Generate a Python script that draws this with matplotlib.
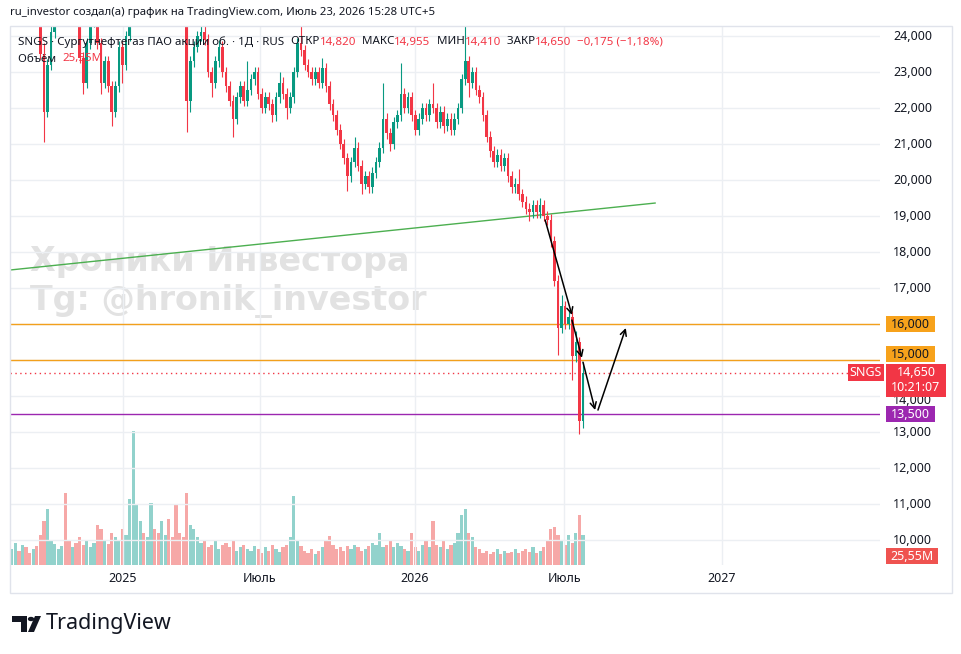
import numpy as np
import matplotlib
matplotlib.use("Agg")
import matplotlib.pyplot as plt
from matplotlib.patches import Rectangle, Polygon, Circle

plt.rcParams["font.family"] = ["Noto Sans", "DejaVu Sans"]

W, H = 961, 654

# ---- data (one candle ~ 3 trading days) ----
first_open = 24600
closes = [
    24800, 25100, 24900, 25300, 25000, 24700, 24900, 24600, 23500, 21900,
    23200, 24100, 24800, 25100, 25300, 25000, 24900, 25200, 24700, 23400,
    22700, 23800, 24400, 24900, 23800, 22700, 23300, 22600, 21900, 22600,
    23700, 23200, 24000, 24500, 24900, 25300, 25600, 25400, 25800, 26000,
    25700, 25500, 25900, 26100, 25800, 25400, 25100, 24900, 24700, 22200,
    23300, 23700, 24000, 24100, 23900, 23000, 22700, 23300, 23700, 23000,
    22600, 22200, 21700, 22300, 22600, 22200, 22500, 22800, 23000, 22400,
    22000, 22300, 22100, 21800, 22300, 22700, 22400, 22000, 22300, 23000,
    23800, 23600, 23200, 23000, 22800, 23000, 22700, 23100, 22600, 22100,
    21800, 21400, 21000, 20600, 20100, 20500, 20900, 20400, 19900, 20100,
    19800, 20200, 20500, 20900, 21700, 21300, 21000, 21600, 21800, 22400,
    22000, 22300, 21800, 21400, 21700, 22000, 21800, 22100, 22000, 21600,
    21900, 21500, 21700, 21400, 21700, 22000, 22800, 23300, 22700, 23000,
    22500, 22300, 21800, 21200, 20800, 20500, 20700, 20400, 20600, 20100,
    19800, 19900, 19600, 19400, 19200, 19100, 19300, 19100, 19300, 19000,
    18900, 18300, 17200, 15900, 16500, 16000, 16200, 15100, 15500, 13300,
    14650,
]
upper_wick = [
    150, 150, 150, 150, 150, 150, 150, 150, 150, 300,
    150, 500, 150, 150, 150, 150, 150, 150, 150, 150,
    150, 150, 400, 150, 150, 150, 150, 150, 150, 150,
    150, 150, 150, 400, 150, 150, 150, 150, 150, 150,
    150, 150, 150, 150, 150, 150, 150, 150, 150, 150,
    150, 150, 150, 400, 500, 150, 150, 150, 200, 150,
    150, 150, 150, 150, 150, 150, 800, 150, 150, 150,
    150, 150, 150, 150, 150, 300, 150, 150, 150, 150,
    150, 500, 150, 150, 150, 150, 150, 300, 150, 150,
    150, 150, 150, 150, 150, 150, 300, 150, 150, 150,
    150, 150, 150, 150, 1000, 150, 150, 150, 150, 850,
    150, 150, 150, 150, 150, 150, 150, 150, 600, 150,
    150, 150, 150, 150, 150, 150, 150, 1100, 150, 150,
    150, 150, 150, 150, 150, 150, 150, 150, 150, 150,
    150, 150, 400, 150, 150, 150, 150, 150, 200, 150,
    150, 150, 150, 150, 300, 150, 200, 150, 300, 150,
    305,
]
lower_wick = [
    150, 150, 150, 150, 150, 150, 150, 150, 150, 850,
    150, 150, 150, 150, 150, 150, 150, 150, 150, 150,
    300, 150, 150, 150, 150, 300, 150, 150, 400, 150,
    150, 500, 150, 150, 150, 150, 150, 150, 150, 150,
    150, 150, 150, 150, 150, 150, 150, 150, 150, 870,
    300, 150, 150, 150, 150, 150, 400, 150, 150, 150,
    150, 150, 500, 150, 150, 150, 150, 150, 150, 150,
    150, 150, 150, 200, 150, 150, 150, 300, 150, 150,
    150, 150, 150, 150, 150, 150, 150, 150, 150, 150,
    150, 150, 150, 150, 400, 150, 150, 150, 300, 150,
    150, 150, 150, 150, 150, 150, 200, 150, 150, 150,
    150, 150, 150, 150, 150, 150, 150, 150, 150, 150,
    150, 200, 150, 150, 150, 150, 150, 150, 400, 150,
    150, 150, 150, 150, 150, 150, 150, 150, 150, 150,
    150, 150, 150, 150, 150, 250, 150, 150, 150, 150,
    150, 150, 150, 750, 150, 150, 150, 650, 150, 350,
    200,
]
volumes = [
    20, 28, 18, 25, 22, 15, 20, 24, 38, 55,
    70, 30, 26, 20, 24, 90, 30, 22, 28, 35,
    25, 30, 22, 28, 50, 45, 30, 26, 40, 35,
    30, 45, 38, 82, 168, 75, 55, 40, 35, 78,
    45, 40, 55, 38, 58, 35, 75, 40, 35, 90,
    50, 45, 35, 28, 30, 22, 25, 30, 20, 25,
    28, 22, 30, 18, 22, 25, 20, 18, 24, 20,
    15, 22, 18, 25, 20, 16, 22, 25, 35, 86,
    30, 24, 18, 15, 20, 14, 18, 22, 30, 36,
    25, 20, 22, 18, 24, 20, 25, 22, 18, 20,
    24, 28, 25, 40, 22, 25, 30, 22, 28, 24,
    20, 18, 40, 22, 18, 25, 30, 22, 55, 25,
    22, 30, 20, 25, 28, 40, 62, 70, 40, 35,
    22, 20, 15, 18, 14, 16, 20, 14, 18, 15,
    16, 20, 15, 18, 20, 16, 22, 15, 18, 22,
    30, 45, 48, 38, 30, 25, 38, 28, 40, 62,
    38,
]

price_ticks = [10000, 11000, 12000, 13000, 14000, 17000, 18000, 19000,
               20000, 21000, 22000, 23000, 24000]
time_tick_pos = [31.6, 70.0, 113.4, 155.2, 199.4]
time_tick_labels = ["2025", "Июль", "2026", "Июль", "2027"]

trend_x = [0, 180.7]
trend_y = [17500, 19360]
arrow_starts = [(149.9, 18890), (157.4, 16110), (160.5, 14940), (164.7, 13610)]
arrow_ends = [(157.4, 16250), (160.2, 15060), (163.9, 13610), (172.5, 15890)]

last_close = 14650
level_orange = [16000, 15000]
level_purple = 13500

UP, DOWN = "#089981", "#f23645"
TXT = "#131722"

# ---- figure ----
fig = plt.figure(figsize=(W / 100, H / 100), dpi=100)
fig.patch.set_facecolor("white")

def fx(x):
    return x / W

def fy(y):
    return 1 - y / H

plot_l, plot_r, plot_t, plot_b = 10, 880, 27, 565
ax_vol = fig.add_axes([fx(plot_l), fy(plot_b), (plot_r - plot_l) / W, (plot_b - plot_t) / H])
ax = ax_vol.twinx()

opens = [first_open] + closes[:-1]
idx = np.arange(len(closes))
o = np.array(opens)
c = np.array(closes)
up = c >= o
hi = np.maximum(o, c) + np.array(upper_wick)
lo = np.minimum(o, c) - np.array(lower_wick)
xs = idx + 0.5
cols = np.where(up, UP, DOWN)

# volume
vcols = np.where(up, "#26a69a", "#ef5350")
ax_vol.bar(xs, volumes, width=0.9, color=vcols, alpha=0.5, linewidth=0)
ax_vol.set_ylim(0, 672)
ax_vol.set_xlim(0, (plot_r - plot_l) / 3.57)

# watermark behind everything
for yy, txt in [(0.565, "Хроники Инвестора"), (0.49, "Tg: @hronik_investor")]:
    ax_vol.text(0.023, yy, txt, transform=ax_vol.transAxes,
                fontsize=24, fontweight="bold", color="#e2e2e2", ha="left", va="center",
                family="DejaVu Sans", zorder=0)

# candles
ax.vlines(xs, lo, hi, colors=cols, linewidth=0.8, zorder=3)
ax.bar(xs, np.maximum(np.abs(c - o), 40), bottom=np.minimum(o, c), width=0.75,
       color=cols, linewidth=0, zorder=3)

ax.set_ylim(9306, 24250)
ax.set_xlim(0, (plot_r - plot_l) / 3.57)

# grid
ax_vol.set_xticks(time_tick_pos)
ax_vol.set_xticklabels(time_tick_labels)
ax_vol.tick_params(axis="x", length=0, pad=5, labelsize=9, labelcolor=TXT)
for lab in ax_vol.get_xticklabels():
    if lab.get_text() != "Июль":
        lab.set_fontweight("bold")
ax_vol.grid(axis="x", color="#eceff3", linewidth=1)
ax_vol.set_yticks([])
ax.set_yticks(range(10000, 25000, 1000))
ax.grid(axis="y", color="#eceff3", linewidth=1, zorder=0)
ax.tick_params(axis="y", length=0, labelright=False, labelleft=False)
for a in (ax, ax_vol):
    for s in a.spines.values():
        s.set_visible(False)

# level lines and trend
for lv in level_orange:
    ax.axhline(lv, color="#f2a01c", linewidth=1, zorder=2)
ax.axhline(level_purple, color="#9c27b0", linewidth=1, zorder=2)
ax.axhline(last_close, xmax=(848 - plot_l) / (plot_r - plot_l), color=DOWN,
           linewidth=1, linestyle=(0, (1, 2.5)), zorder=2)
ax.plot(trend_x, trend_y, color="#4caf50", linewidth=1, zorder=2)

for s, e in zip(arrow_starts, arrow_ends):
    ax.annotate("", xy=e, xytext=s,
                arrowprops=dict(arrowstyle="->", color="black", lw=1.1,
                                mutation_scale=11, shrinkA=0, shrinkB=0), zorder=5)

# outer frame
fig.add_artist(Rectangle((fx(10), fy(593)), fx(942), (593 - 26) / H, transform=fig.transFigure,
                         fill=False, edgecolor="#e0e3eb", linewidth=1))

# price scale labels
def ypix(price):
    return H - ax.transData.transform((0, price))[1]

for p in price_ticks:
    # 14,000 sits half under the last-price tag, as in the original
    yoff = 4 if p == 14000 else 0
    fig.text(fx(893), fy(ypix(p) + yoff), f"{p:,}", fontsize=9, color=TXT,
             ha="left", va="center")

def tag(x0, x1, yc, h, color, text, tcolor, size=9, weight="normal"):
    fig.add_artist(Rectangle((fx(x0), fy(yc + h / 2)), (x1 - x0) / W, h / H,
                             transform=fig.transFigure, facecolor=color, edgecolor="none",
                             zorder=10))
    fig.text(fx((x0 + x1) / 2), fy(yc), text, fontsize=size, color=tcolor,
             ha="center", va="center", fontweight=weight, zorder=11)

tag(886, 935, ypix(16000), 16, "#f7a21b", "16,000", TXT)
tag(886, 935, ypix(15000) - 6, 16, "#f7a21b", "15,000", TXT)
tag(886, 935, ypix(level_purple), 16, "#9c27b0", "13,500", "white")
yl = ypix(last_close)
tag(848, 884, yl, 17, DOWN, "SNGS", "white")
fig.add_artist(Rectangle((fx(886), fy(yl + 24)), 60 / W, 33 / H, transform=fig.transFigure,
                         facecolor=DOWN, edgecolor="none", zorder=10))
fig.text(fx(916), fy(yl), f"{last_close:,}", fontsize=9, color="white",
         ha="center", va="center", zorder=11)
fig.text(fx(916), fy(yl + 15), "10:21:07", fontsize=9, color="white",
         ha="center", va="center", zorder=11)
tag(886, 938, 556, 16, "#ef5350", "25,55M", "white")

# header texts
fig.text(fx(10), fy(13), "ru_investor создал(а) график на TradingView.com, Июль 23, 2026 15:28 UTC+5",
         fontsize=8.2, color=TXT, ha="left", va="center")

legend_parts = [
    ("SNGS · Сургутнефтегаз ПАО акции об. · 1Д · RUS  ", TXT),
    ("ОТКР", TXT), ("14,820", DOWN),
    ("  МАКС", TXT), ("14,955", DOWN),
    ("  МИН", TXT), ("14,410", DOWN),
    ("  ЗАКР", TXT), ("14,650", DOWN),
    ("  −0,175 (−1,18%)", DOWN),
]
renderer = fig.canvas.get_renderer()
xcur = 18
for text, col in legend_parts:
    t = fig.text(fx(xcur), fy(42), text, fontsize=8.3, color=col, ha="left", va="center", zorder=6)
    xcur += t.get_window_extent(renderer).width
t = fig.text(fx(18), fy(59), "Объём  ", fontsize=8.3, color=TXT, ha="left", va="center", zorder=6)
fig.text(fx(18) + t.get_window_extent(renderer).width / W, fy(59), "25,55M", fontsize=8.3,
         color=DOWN, ha="left", va="center", zorder=6)

# TradingView logo
fig.add_artist(Polygon([(fx(12), fy(616)), (fx(27), fy(616)), (fx(27), fy(632)),
                        (fx(21), fy(632)), (fx(21), fy(622)), (fx(12), fy(622))],
                       closed=True, transform=fig.transFigure, facecolor="#131722"))
fig.add_artist(Circle((fx(31), fy(619)), 3.2 / W, transform=fig.transFigure,
                      facecolor="#131722"))
fig.add_artist(Polygon([(fx(35), fy(616)), (fx(41), fy(616)), (fx(34), fy(632)),
                        (fx(28), fy(632))],
                       closed=True, transform=fig.transFigure, facecolor="#131722"))
fig.text(fx(46), fy(624), "TradingView", fontsize=15.5, fontweight="bold",
         color="#131722", ha="left", va="center")

fig.savefig("out.png", dpi=100)
